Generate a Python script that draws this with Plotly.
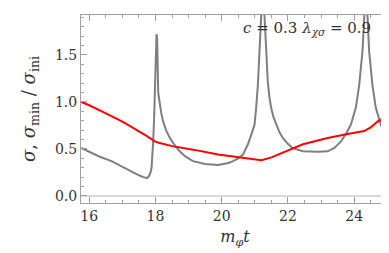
import plotly.graph_objects as go

# gray curve: sigma / sigma_ini
sigma_t = [15.76, 16.0, 16.3, 16.67, 17.0, 17.3, 17.5, 17.63, 17.70, 17.75, 17.80, 17.85,
           17.88, 17.91, 17.93, 17.96, 17.98, 18.00, 18.01, 18.03, 18.05, 18.06, 18.08,
           18.10, 18.13, 18.18, 18.23, 18.33, 18.43, 18.58, 18.73, 18.9, 19.13, 19.5,
           19.89, 20.2, 20.34, 20.5, 20.64, 20.79, 20.89, 20.96, 20.99, 21.04, 21.09,
           21.14, 21.19, 21.24, 21.29, 21.34, 21.39, 21.44, 21.49, 21.56, 21.64, 21.74,
           21.84, 21.98, 22.14, 22.45, 22.9, 23.2, 23.4, 23.6, 23.75, 23.9, 24.05, 24.15,
           24.25, 24.32, 24.36, 24.4, 24.45, 24.55, 24.65, 24.8, 24.9, 25.05]
sigma_v = [0.51, 0.47, 0.42, 0.37, 0.31, 0.25, 0.22, 0.20, 0.19, 0.19, 0.21, 0.25,
           0.30, 0.45, 0.58, 0.85, 1.11, 1.33, 1.35, 1.72, 1.68, 1.35, 1.11,
           1.05, 0.97, 0.87, 0.79, 0.69, 0.62, 0.54, 0.475, 0.42, 0.37, 0.34,
           0.33, 0.35, 0.37, 0.40, 0.44, 0.55, 0.65, 0.72, 0.76, 0.94, 1.18,
           1.54, 1.92, 2.3, 1.92, 1.54, 1.22, 1.05, 0.94, 0.84, 0.76, 0.68,
           0.62, 0.56, 0.51, 0.475, 0.47, 0.475, 0.51, 0.58, 0.66, 0.76, 0.94, 1.18,
           1.54, 1.92, 2.3, 1.92, 1.54, 1.18, 0.94, 0.76, 0.67, 0.55]

# red curve: sigma_min / sigma_ini
smin_t = [15.76, 16.0, 16.67, 17.0, 17.68, 17.98, 18.1, 18.28, 18.5, 19.18, 19.89, 20.34,
          20.8, 21.2, 21.5, 21.84, 22.2, 22.45, 22.9, 23.2, 23.8, 24.3, 24.5, 24.7, 25.05]
smin_v = [1.0, 0.965, 0.85, 0.79, 0.65, 0.58, 0.565, 0.546, 0.53, 0.49, 0.44, 0.42,
          0.40, 0.38, 0.41, 0.46, 0.51, 0.55, 0.59, 0.617, 0.66, 0.69, 0.73, 0.79, 0.86]

x_ticks = [16, 18, 20, 22, 24]
y_ticks = [0.0, 0.5, 1.0, 1.5]
y_tick_text = ["0.0", "0.5", "1.0", "1.5"]

FONT = "DejaVu Serif"

fig = go.Figure()
fig.add_trace(go.Scatter(x=[15.5, 25.5], y=[0, 0], mode="lines",
                         line=dict(color="#cccccc", width=1.5), hoverinfo="skip"))
fig.add_trace(go.Scatter(x=sigma_t, y=sigma_v, mode="lines",
                         line=dict(color="#7f7f7f", width=2)))
fig.add_trace(go.Scatter(x=smin_t, y=smin_v, mode="lines",
                         line=dict(color="#ff0000", width=2)))

axis_common = dict(showline=True, linecolor="#a0a0a0", linewidth=1, mirror="ticks",
                   ticks="inside", tickcolor="#a0a0a0", showgrid=False, zeroline=False,
                   tickfont=dict(family=FONT, size=14, color="#333333"))

fig.update_xaxes(range=[15.75, 25.05], tickvals=x_ticks, ticklen=6,
                 minor=dict(dtick=0.5, ticks="inside", ticklen=3, tickcolor="#a0a0a0"),
                 title=dict(text="<i>m</i><sub><i>φ</i></sub><i>t</i>",
                            font=dict(family=FONT, size=16, color="#333333"), standoff=8),
                 **axis_common)
fig.update_yaxes(range=[-0.075, 1.925], tickvals=y_ticks, ticktext=y_tick_text, ticklen=6,
                 minor=dict(dtick=0.1, ticks="inside", ticklen=3, tickcolor="#a0a0a0"),
                 title=dict(text="<i>σ</i>, <i>σ</i><sub>min</sub> / <i>σ</i><sub>ini</sub>",
                            font=dict(family=FONT, size=18, color="#333333"), standoff=14),
                 **axis_common)

fig.add_annotation(x=1.0, y=1.0, xref="paper", yref="paper", xanchor="right", yanchor="top",
                   xshift=-16, yshift=-2, showarrow=False,
                   text="<i>c</i> = 0.3 <i>λ</i><sub><i>χσ</i></sub> = 0.9",
                   font=dict(family=FONT, size=15, color="#333333"))

fig.update_layout(width=389, height=253, margin=dict(l=73, r=8, t=7, b=58),
                  plot_bgcolor="white", paper_bgcolor="white", showlegend=False)

fig.write_html("out.html")
